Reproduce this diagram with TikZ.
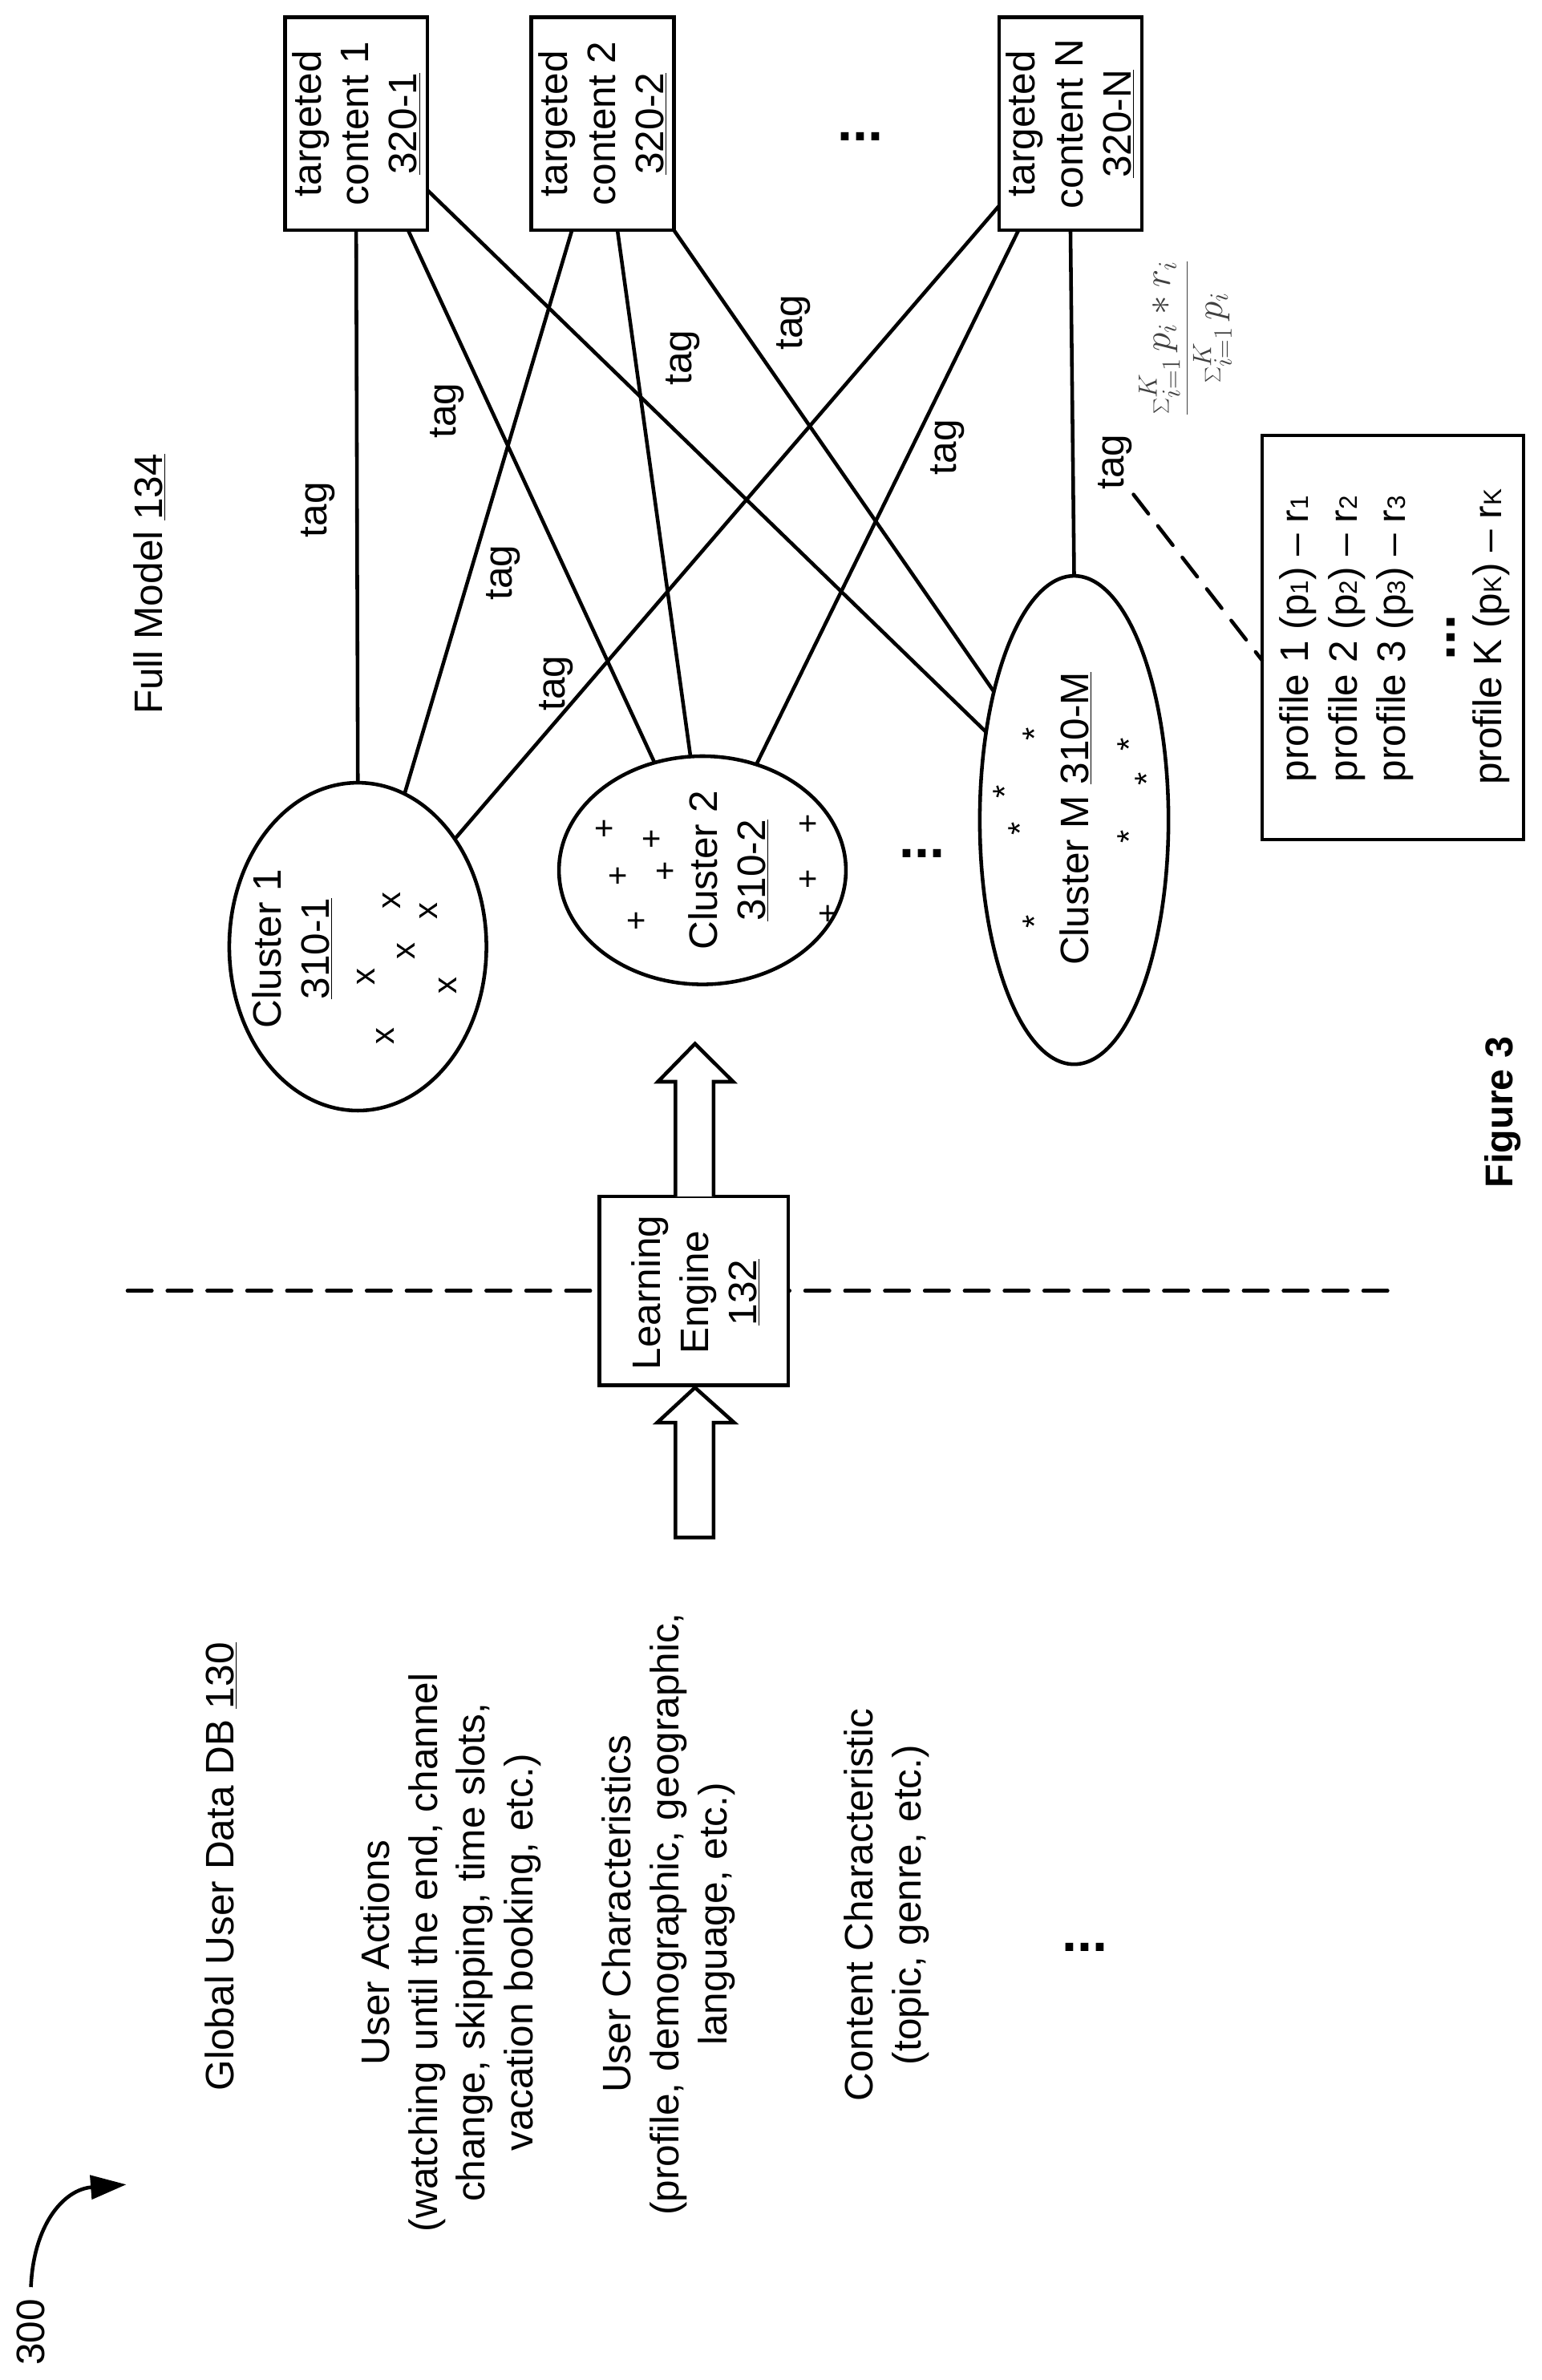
\documentclass[tikz,border=0pt]{standalone}
\usepackage{fontspec}
\setmainfont{Liberation Sans}
\usetikzlibrary{shapes.geometric,arrows.meta}
\newcommand{\ul}[1]{\underline{#1}}
\tikzset{
  every node/.style={font=\fontsize{26.1}{31.6}\selectfont,inner sep=0pt,outer sep=0pt},
  txt/.style={rotate=90,align=center},
  lab/.style={rotate=90,anchor=base},
  boxn/.style={draw,line width=2.4pt,minimum width=93.7pt,minimum height=139.7pt},
  clus/.style={draw,ellipse,line width=2.4pt},
  link/.style={line width=2.4pt},
  dash line/.style={line width=2.4pt,line cap=round,dash pattern=on 16pt off 10.2pt},
  fat/.style={draw,line width=2.4pt,fill=white},
  pointmark/.style={rotate=90,font=\fontsize{22}{22}\selectfont},
  dotsn/.style={font=\fontsize{36}{36}\bfseries\selectfont},
}
\begin{document}
\begin{tikzpicture}[x=1pt,y=-1pt]
\useasboundingbox (0,0) rectangle (1013,1564.3);
% divider
\coordinate (dl) at (83.8,848.4);
\coordinate (dr) at (918,848.4);
\draw[dash line] (dl) -- (dr);
% learning engine
\node[fat,minimum width=124.1pt,minimum height=124pt] (le) at (456,848.4) {};
\node[txt] at (457.3,849.5) {Learning\\Engine\\\ul{132}};
% hollow arrows
\coordinate (a1a) at (444,786.4); \coordinate (a1b) at (444,711); \coordinate (a1c) at (432.4,711);
\coordinate (a1d) at (456.8,686); \coordinate (a1e) at (481.9,711); \coordinate (a1f) at (469,711); \coordinate (a1g) at (469,786.4);
\draw[fat,line join=miter] (a1a) -- (a1b) -- (a1c) -- (a1d) -- (a1e) -- (a1f) -- (a1g);
\coordinate (a2a) at (444,1010.5); \coordinate (a2b) at (444,935); \coordinate (a2c) at (432,935);
\coordinate (a2d) at (456.8,912); \coordinate (a2e) at (482.5,935); \coordinate (a2f) at (469,935); \coordinate (a2g) at (469,1010.5);
\draw[fat,line join=miter] (a2a) -- (a2b) -- (a2c) -- (a2d) -- (a2e) -- (a2f) -- (a2g) -- cycle;
% targets
\node[boxn] (b1) at (234.1,81.3) {};
\node[boxn] (b2) at (396,81.3) {};
\node[boxn] (bN) at (703.6,81.3) {};
\node[txt] at (b1) {targeted\\content 1\\\ul{320-1}};
\node[txt] at (b2) {targeted\\content 2\\\ul{320-2}};
\node[txt] at (bN) {targeted\\content N\\\ul{320-N}};
% clusters
\node[clus,minimum width=169pt,minimum height=215.5pt] (c1) at (235.2,622.2) {};
\node[clus,minimum width=188.6pt,minimum height=150pt] (c2) at (461.7,572) {};
\node[clus,minimum width=124pt,minimum height=321pt] (cM) at (706,539) {};
\node[txt] at (192.3,623.5) {Cluster 1\\\ul{310-1}};
\node[txt] at (479,572) {Cluster 2\\\ul{310-2}};
\node[lab] at (715.3,538) {Cluster M \ul{310-M}};
% connectors
\draw[link] (c1.north) -- (b1.south);
\draw[link] (c1.73.5) -- (b2.-106.7);
\draw[link] (c1.48.5) -- (bN.-131);
\draw[link] (c2.114.7) -- (b1.-64.7);
\draw[link] (c2.96.3) -- (b2.-82);
\draw[link] (c2.63) -- (bN.-116);
\draw[link] (cM.135.5) -- (b1.-43.9);
\draw[link] (cM.122.2) -- (b2.south east);
\draw[link] (cM.north) -- (bN.south);
% tags
\node[lab] (t1) at (214.6,335) {tag};
\node[lab] (t2) at (299.5,270) {tag};
\node[lab] (t3) at (336.6,376.4) {tag};
\node[lab] (t4) at (371.5,449) {tag};
\node[lab] (t5) at (454.5,235) {tag};
\node[lab] (t6) at (527.5,212) {tag};
\node[lab] (t7) at (628.5,294) {tag};
\node[lab] (t8) at (738.8,303.7) {tag};
% ellipsis marks
\node[dotsn] (d1) at (565.7,89.6) {...};
\node[dotsn] (d2) at (606,561) {...};
\node[dotsn] (d3) at (713,1280) {...};
% points inside clusters
\foreach \p [count=\i] in {(257.7,592),(281.7,599),(267,625),(240.8,642),(294.4,648),(253.4,681)} \node[pointmark] (mx\i) at \p {x};
\foreach \p [count=\i] in {(397.9,544.7),(429,551.4),(407.2,575.8),(438.4,572.5),(419.5,605.3),(532.2,541.5),(532.2,578),(545,600.6)} \node[pointmark] (mp\i) at \p {+};
\foreach \p [count=\i] in {(680,482.7),(660.6,520.5),(670.7,544.7),(680,605.9),(742,489.4),(754,511.9),(742,550)} \node[pointmark] (ms\i) at \p {*};
% profile
\node[fat,minimum width=171.9pt,minimum height=265.7pt] (pb) at (915.5,419) {};
\newcommand{\sm}[1]{{\fontsize{16.5}{16.5}\selectfont #1}}
\node[lab] (pl1) at (860,420) {profile 1 (p\sm{1}) -- r\sm{1}};
\node[lab] (pl2) at (892.2,420) {profile 2 (p\sm{2}) -- r\sm{2}};
\node[lab] (pl3) at (923.8,420) {profile 3 (p\sm{3}) -- r\sm{3}};
\node[dotsn,rotate=90] (pld) at (953.6,419) {...};
\node[lab] (plk) at (987,418.6) {profile K (p\sm{K}) -- r\sm{K}};
\coordinate (ds) at (745,325);
\draw[dash line] (ds) -- (pb.west |- 0,434);
% formula
\node[rotate=90,font=\fontsize{25}{27}\selectfont,text=black!75] (fm) at (779,222) {$\displaystyle\frac{\sum_{i=1}^{K} p_i * r_i}{\sum_{i=1}^{K} p_i}$};
% titles
\node[lab] (fullm) at (106.8,383.9) {Full Model \ul{134}};
\node[lab] (glob) at (153.7,1226.8) {Global User Data DB \ul{130}};
\node[txt] (ua) at (296.3,1283.3) {User Actions\\(watching until the end, channel\\change, skipping, time slots,\\vacation booking, etc.)};
\node[txt] (uc) at (439.5,1258) {User Characteristics\\(profile, demographic, geographic,\\language, etc.)};
\node[txt] (cc) at (582.6,1252) {Content Characteristic\\(topic, genre, etc.)};
\node[lab] (n300) at (29,1533) {300};
\coordinate (e300) at (83,1435.8);
\draw[line width=2.4pt,-{Triangle[length=23.4pt,width=15.6pt]},shorten <=8pt] (n300.east) .. controls (22,1462) and (42,1439) .. (e300);
\node[font=\fontsize{25.5}{30}\bfseries\selectfont,rotate=90] (fig) at (988,731) {Figure 3};
\end{tikzpicture}
\end{document}
